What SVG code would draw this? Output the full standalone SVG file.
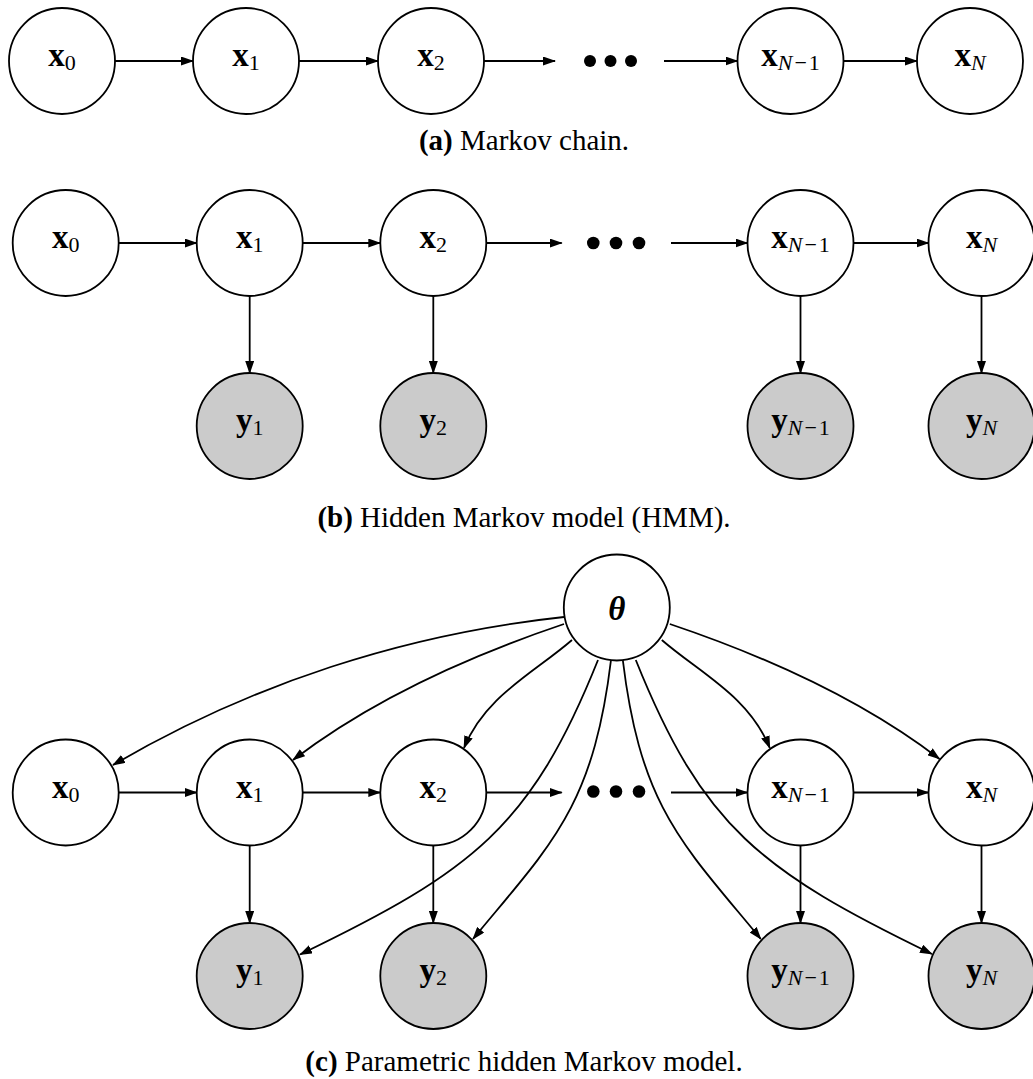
<svg xmlns="http://www.w3.org/2000/svg" width="1033" height="1079" viewBox="0 0 1033 1079">
  <style>
    .node { fill: #ffffff; stroke: #000000; stroke-width: 1.8; }
    .obs { fill: #cbcbcb; stroke: #000000; stroke-width: 1.8; }
    .edge { fill: none; stroke: #000000; stroke-width: 1.8; marker-end: url(#ah); }
    .lbl { font-family: "Liberation Serif", "Times New Roman", serif; font-size: 33px; text-anchor: middle; fill: #000; }
    .b { font-weight: bold; }
    .sub { font-size: 22px; font-weight: normal; }
    .it { font-style: italic; }
    .cap { font-family: "Liberation Serif", "Times New Roman", serif; font-size: 29px; text-anchor: middle; fill: #000; }
  </style>
  <defs>
    <marker id="ah" viewBox="0 0 13 9" refX="12" refY="4.5" markerWidth="13" markerHeight="9" markerUnits="userSpaceOnUse" orient="auto">
      <path d="M0,0 L13,4.5 L0,9 z" fill="#000"/>
    </marker>
  </defs>
  <rect width="1033" height="1079" fill="#ffffff"/>

  <!-- connectors -->
  <g id="connectors">
    <!-- (a) chain -->
    <path class="edge" d="M115,61 H193"/>
    <path class="edge" d="M299,61 H378"/>
    <path class="edge" d="M484,61 H555"/>
    <path class="edge" d="M664,61 H737.5"/>
    <path class="edge" d="M843.5,61 H917"/>
    <!-- (b) HMM -->
    <path class="edge" d="M118.7,243 H196.7"/>
    <path class="edge" d="M302.7,243 H380.3"/>
    <path class="edge" d="M486.3,243 H561.7"/>
    <path class="edge" d="M671,243 H747.5"/>
    <path class="edge" d="M853.5,243 H928.5"/>
    <path class="edge" d="M249.7,296 V373"/>
    <path class="edge" d="M433.3,296 V373"/>
    <path class="edge" d="M800.5,296 V373"/>
    <path class="edge" d="M981.5,296 V373"/>
    <!-- (c) parametric HMM -->
    <path class="edge" d="M118.7,792.5 H196.7"/>
    <path class="edge" d="M302.7,792.5 H380.3"/>
    <path class="edge" d="M486.3,792.5 H561.7"/>
    <path class="edge" d="M671,792.5 H747.5"/>
    <path class="edge" d="M853.5,792.5 H928.5"/>
    <path class="edge" d="M249.7,845.5 V923"/>
    <path class="edge" d="M433.3,845.5 V923"/>
    <path class="edge" d="M800.5,845.5 V923"/>
    <path class="edge" d="M981.5,845.5 V923"/>
    <!-- theta to every node -->
    <path class="edge" d="M564,617 C405,634 251,684 113,765"/>
    <path class="edge" d="M564,624 C469,656 374,698 293,760"/>
    <path class="edge" d="M572,640 C534,673 485,696 464,748"/>
    <path class="edge" d="M598,660 C531,827 473,871 300,954.5"/>
    <path class="edge" d="M611,660 C593,808.5 550.6,844.6 473,939"/>
    <path class="edge" d="M622.8,660 C640.8,808.5 683.2,844.6 760.8,939"/>
    <path class="edge" d="M635.8,660 C702.8,827 760.8,871 932,954"/>
    <path class="edge" d="M661.8,640 C699.8,673 748.8,696 769.8,748"/>
    <path class="edge" d="M669.8,624 C764.8,656 859.8,698 939.5,759"/>
  </g>

  <!-- (a) Markov chain -->
  <g id="a-x0"><circle class="node" cx="62" cy="61" r="53"/><text class="lbl" x="62" y="66"><tspan class="b">x</tspan><tspan class="sub" dy="4">0</tspan></text></g>
  <g id="a-x1"><circle class="node" cx="246" cy="61" r="53"/><text class="lbl" x="246" y="66"><tspan class="b">x</tspan><tspan class="sub" dy="4">1</tspan></text></g>
  <g id="a-x2"><circle class="node" cx="431" cy="61" r="53"/><text class="lbl" x="431" y="66"><tspan class="b">x</tspan><tspan class="sub" dy="4">2</tspan></text></g>
  <g id="a-dots"><circle cx="590" cy="61" r="6"/><circle cx="610.5" cy="61" r="6"/><circle cx="631" cy="61" r="6"/></g>
  <g id="a-xNm1"><circle class="node" cx="790.5" cy="61" r="53"/><text class="lbl" x="790.5" y="66"><tspan class="b">x</tspan><tspan class="sub" dy="4"><tspan class="it">N</tspan><tspan dx="2">−</tspan><tspan dx="2">1</tspan></tspan></text></g>
  <g id="a-xN"><circle class="node" cx="970" cy="61" r="53"/><text class="lbl" x="970" y="66"><tspan class="b">x</tspan><tspan class="sub it" dy="4">N</tspan></text></g>
  <text class="cap" x="524" y="150"><tspan font-weight="bold">(a)</tspan> Markov chain.</text>

  <!-- (b) Hidden Markov model -->
  <g id="b-x0"><circle class="node" cx="65.7" cy="243" r="53"/><text class="lbl" x="65.7" y="248"><tspan class="b">x</tspan><tspan class="sub" dy="4">0</tspan></text></g>
  <g id="b-x1"><circle class="node" cx="249.7" cy="243" r="53"/><text class="lbl" x="249.7" y="248"><tspan class="b">x</tspan><tspan class="sub" dy="4">1</tspan></text></g>
  <g id="b-x2"><circle class="node" cx="433.3" cy="243" r="53"/><text class="lbl" x="433.3" y="248"><tspan class="b">x</tspan><tspan class="sub" dy="4">2</tspan></text></g>
  <g id="b-dots"><circle cx="593.3" cy="243" r="6.3"/><circle cx="616" cy="243" r="6.3"/><circle cx="639" cy="243" r="6.3"/></g>
  <g id="b-xNm1"><circle class="node" cx="800.5" cy="243" r="53"/><text class="lbl" x="800.5" y="248"><tspan class="b">x</tspan><tspan class="sub" dy="4"><tspan class="it">N</tspan><tspan dx="2">−</tspan><tspan dx="2">1</tspan></tspan></text></g>
  <g id="b-xN"><circle class="node" cx="981.5" cy="243" r="53"/><text class="lbl" x="981.5" y="248"><tspan class="b">x</tspan><tspan class="sub it" dy="4">N</tspan></text></g>
  <g id="b-y1"><circle class="obs" cx="249.7" cy="426" r="53"/><text class="lbl" x="249.7" y="431"><tspan class="b">y</tspan><tspan class="sub" dy="4">1</tspan></text></g>
  <g id="b-y2"><circle class="obs" cx="433.3" cy="426" r="53"/><text class="lbl" x="433.3" y="431"><tspan class="b">y</tspan><tspan class="sub" dy="4">2</tspan></text></g>
  <g id="b-yNm1"><circle class="obs" cx="800.5" cy="426" r="53"/><text class="lbl" x="800.5" y="431"><tspan class="b">y</tspan><tspan class="sub" dy="4"><tspan class="it">N</tspan><tspan dx="2">−</tspan><tspan dx="2">1</tspan></tspan></text></g>
  <g id="b-yN"><circle class="obs" cx="981.5" cy="426" r="53"/><text class="lbl" x="981.5" y="431"><tspan class="b">y</tspan><tspan class="sub it" dy="4">N</tspan></text></g>
  <text class="cap" x="524" y="527"><tspan font-weight="bold">(b)</tspan> Hidden Markov model (HMM).</text>

  <!-- (c) Parametric hidden Markov model -->
  <g id="c-theta"><circle class="node" cx="616.8" cy="607.5" r="53"/><text class="lbl" x="616.8" y="619.5" font-weight="bold" font-style="italic">θ</text></g>
  <g id="c-x0"><circle class="node" cx="65.7" cy="792.5" r="53"/><text class="lbl" x="65.7" y="797.5"><tspan class="b">x</tspan><tspan class="sub" dy="4">0</tspan></text></g>
  <g id="c-x1"><circle class="node" cx="249.7" cy="792.5" r="53"/><text class="lbl" x="249.7" y="797.5"><tspan class="b">x</tspan><tspan class="sub" dy="4">1</tspan></text></g>
  <g id="c-x2"><circle class="node" cx="433.3" cy="792.5" r="53"/><text class="lbl" x="433.3" y="797.5"><tspan class="b">x</tspan><tspan class="sub" dy="4">2</tspan></text></g>
  <g id="c-dots"><circle cx="593.3" cy="791.5" r="6.3"/><circle cx="616" cy="791.5" r="6.3"/><circle cx="639" cy="791.5" r="6.3"/></g>
  <g id="c-xNm1"><circle class="node" cx="800.5" cy="792.5" r="53"/><text class="lbl" x="800.5" y="797.5"><tspan class="b">x</tspan><tspan class="sub" dy="4"><tspan class="it">N</tspan><tspan dx="2">−</tspan><tspan dx="2">1</tspan></tspan></text></g>
  <g id="c-xN"><circle class="node" cx="981.5" cy="792.5" r="53"/><text class="lbl" x="981.5" y="797.5"><tspan class="b">x</tspan><tspan class="sub it" dy="4">N</tspan></text></g>
  <g id="c-y1"><circle class="obs" cx="249.7" cy="976" r="53"/><text class="lbl" x="249.7" y="981"><tspan class="b">y</tspan><tspan class="sub" dy="4">1</tspan></text></g>
  <g id="c-y2"><circle class="obs" cx="433.3" cy="976" r="53"/><text class="lbl" x="433.3" y="981"><tspan class="b">y</tspan><tspan class="sub" dy="4">2</tspan></text></g>
  <g id="c-yNm1"><circle class="obs" cx="800.5" cy="976" r="53"/><text class="lbl" x="800.5" y="981"><tspan class="b">y</tspan><tspan class="sub" dy="4"><tspan class="it">N</tspan><tspan dx="2">−</tspan><tspan dx="2">1</tspan></tspan></text></g>
  <g id="c-yN"><circle class="obs" cx="981.5" cy="976" r="53"/><text class="lbl" x="981.5" y="981"><tspan class="b">y</tspan><tspan class="sub it" dy="4">N</tspan></text></g>
  <text class="cap" x="524" y="1071"><tspan font-weight="bold">(c)</tspan> Parametric hidden Markov model.</text>
</svg>
